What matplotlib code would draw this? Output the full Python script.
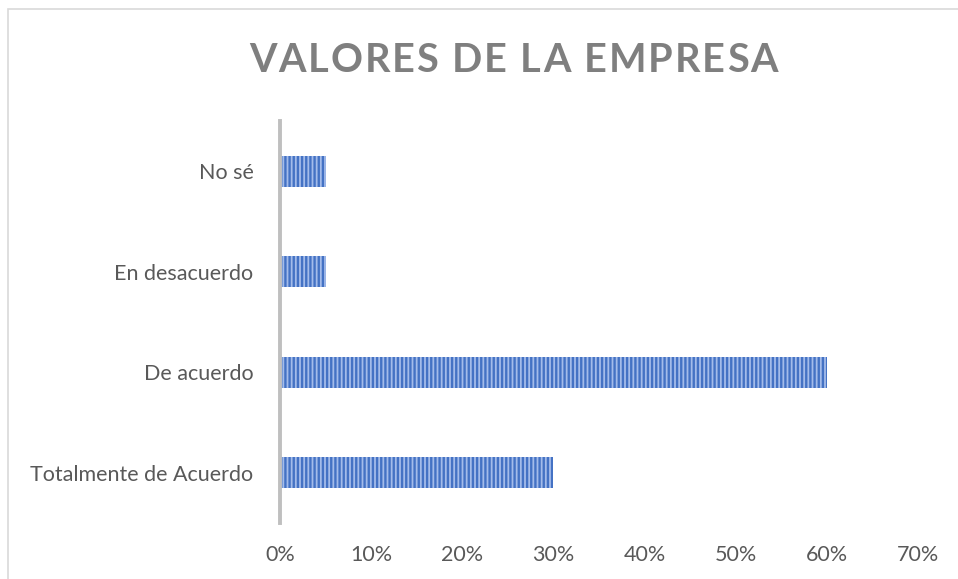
import matplotlib
matplotlib.use("Agg")
import matplotlib.pyplot as plt
from matplotlib.patches import Rectangle
from matplotlib.ticker import FuncFormatter

categories = ["Totalmente de Acuerdo", "De acuerdo", "En desacuerdo", "No sé"]
values = [30, 60, 5, 5]
x_ticks = [0, 10, 20, 30, 40, 50, 60, 70]
title = "VALORES DE LA EMPRESA"

plt.rcParams["font.family"] = ["Lato", "DejaVu Sans"]
plt.rcParams["hatch.linewidth"] = 1.7

W, H = 958, 579
fig = plt.figure(figsize=(W / 100, H / 100), dpi=100)
ax = fig.add_axes([280 / W, 56 / H, 638 / W, 402 / H])

ax.barh(range(len(categories)), values, height=0.31, color="#a4bcea",
        edgecolor="#4472c4", hatch="||||", linewidth=0)

ax.set_xlim(0, 70)
ax.set_ylim(-0.5, len(categories) - 0.5)
ax.set_xticks(x_ticks)
ax.xaxis.set_major_formatter(FuncFormatter(lambda v, p: f"{v:.0f}%"))
ax.set_yticks(range(len(categories)), categories)
ax.tick_params(length=0, labelsize=15.5, labelcolor="#595959")
ax.tick_params(axis="x", pad=16)
ax.tick_params(axis="y", pad=19)
for side in ("top", "right", "bottom"):
    ax.spines[side].set_visible(False)
ax.spines["left"].set_color("#bfbfbf")
ax.spines["left"].set_linewidth(2.8)

# chart area border (runs off the right and bottom edges)
fig.patches.append(Rectangle((7.5 / W, -0.1), 1.2, 1 - 9.5 / H + 0.1,
                             transform=fig.transFigure, fill=False,
                             edgecolor="#d9d9d9", linewidth=1.2))

# title with letter spacing, drawn one character at a time
left_px, right_px, y_px = 249, 778, 61
renderer = fig.canvas.get_renderer()
chars = []
widths = []
for ch in title:
    t = fig.text(0, 0, ch, fontsize=28.5, fontweight="bold", color="#7f7f7f",
                 va="center", ha="left")
    chars.append(t)
    widths.append(t.get_window_extent(renderer).width)
gap = (right_px - left_px - sum(widths)) / (len(title) - 1)
x = left_px
for t, w in zip(chars, widths):
    t.set_position((x / W, 1 - y_px / H))
    x += w + gap

fig.savefig("out.png", dpi=100)
